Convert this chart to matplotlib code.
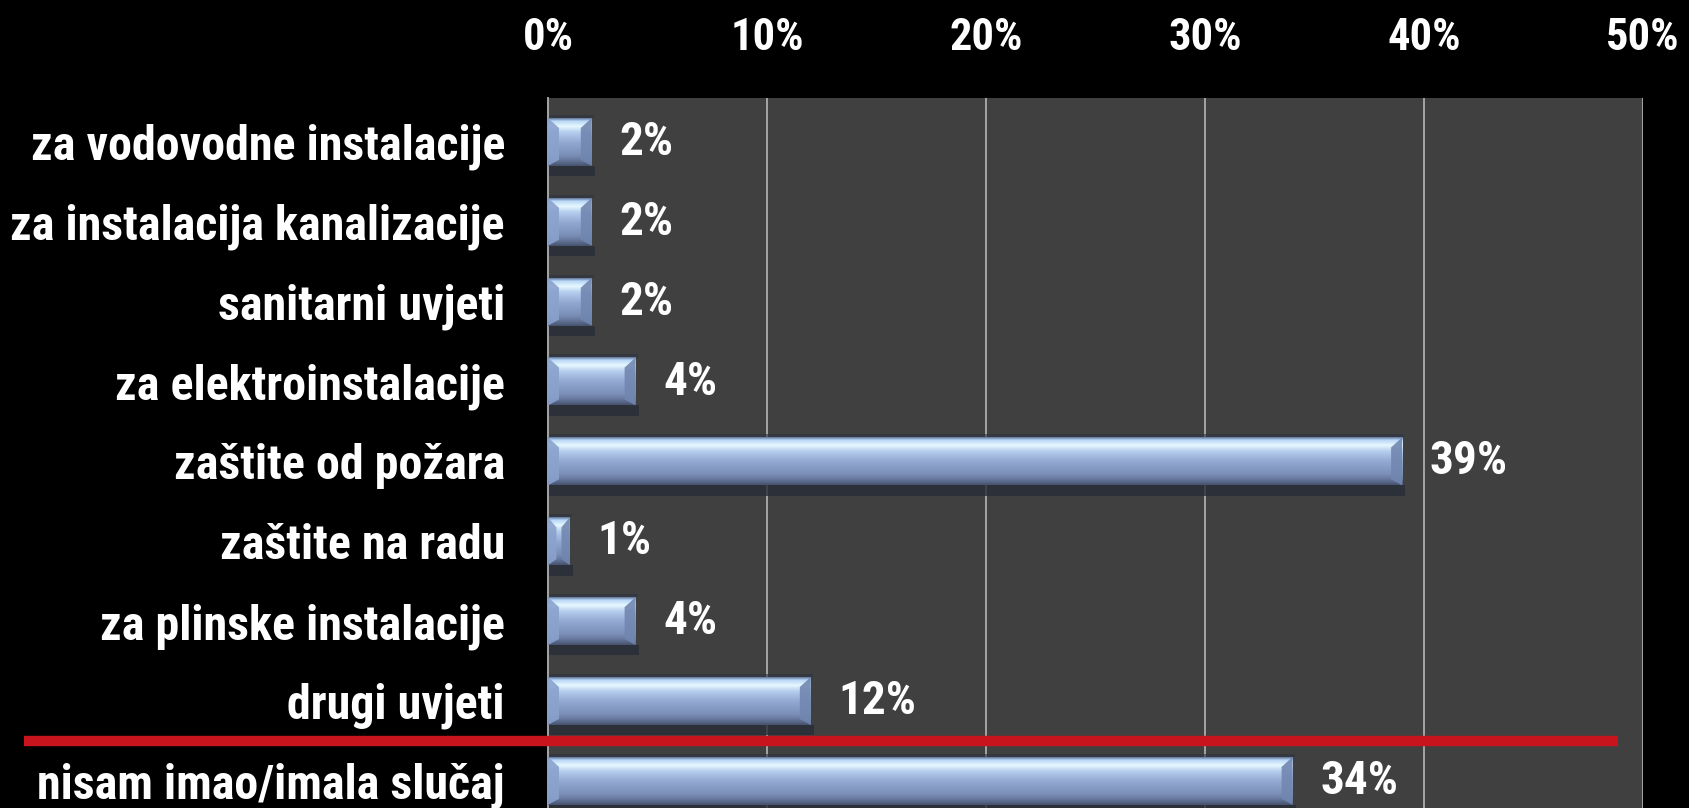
import numpy as np
import matplotlib
matplotlib.use('Agg')
import matplotlib.pyplot as plt
import matplotlib.transforms as mtransforms
from matplotlib import font_manager
from matplotlib.patches import Polygon, Rectangle
from matplotlib.colors import LinearSegmentedColormap

# ---- data ----
categories = [
    'za vodovodne instalacije',
    'za instalacija kanalizacije',
    'sanitarni uvjeti',
    'za elektroinstalacije',
    'zaštite od požara',
    'zaštite na radu',
    'za plinske instalacije',
    'drugi uvjeti',
    'nisam imao/imala slučaj',
]
values = [2, 2, 2, 4, 39, 1, 4, 12, 34]
tick_values = [0, 10, 20, 30, 40, 50]
tick_labels = ['0%', '10%', '20%', '30%', '40%', '50%']
n_above_separator = 8   # red line separates the last category


def pick_font():
    fl = font_manager.fontManager.ttflist
    names = {f.name for f in fl}
    for p in ['Liberation Sans Narrow', 'Roboto Condensed', 'Open Sans Condensed',
              'Noto Sans Condensed', 'DejaVu Sans Condensed', 'Noto Sans SemiCondensed',
              'Open Sans SemiCondensed']:
        if p in names:
            return p, 'normal'
    for fam in ['Noto Sans', 'DejaVu Sans', 'Open Sans', 'Roboto']:
        for f in fl:
            if f.name == fam and str(f.stretch) in ('condensed', 'semi-condensed',
                                                    'extra-condensed', 'ultra-condensed'):
                return fam, 'condensed' if 'semi' not in str(f.stretch) else 'semi-condensed'
    for f in fl:
        if 'Condensed' in f.name or 'Narrow' in f.name:
            return f.name, 'normal'
    return 'Roboto', 'normal'


FAM, STRETCH = pick_font()
plt.rcParams['font.family'] = [FAM, 'DejaVu Sans']
plt.rcParams['font.stretch'] = STRETCH
WEIGHT = 'bold'

W, H = 1690, 808
fig = plt.figure(figsize=(W / 100, H / 100), dpi=100, facecolor='black')
ax = fig.add_axes([548 / W, 0, 1095 / W, 710 / H])
ax.set_facecolor('#404040')
renderer = fig.canvas.get_renderer()


def fit_size(text, target_px, maxsize):
    t = fig.text(0, 0, text, fontsize=maxsize, fontweight=WEIGHT)
    wpx = t.get_window_extent(renderer).width
    t.remove()
    return min(maxsize, maxsize * target_px / wpx)


cat_size = min(fit_size(c, 494, 36) for c in ['za vodovodne instalacije', 'za instalacija kanalizacije'])
tick_size = fit_size('10%', 86, 32)
val_size = fit_size('39%', 86, 34)

y = np.arange(len(categories))
bar_h = 0.6
ax.set_xlim(tick_values[0], tick_values[-1])
ax.set_ylim(8.34, -0.55)

bars = ax.barh(y, values, height=bar_h, color='none', edgecolor='none', zorder=3)

grad_cmap = LinearSegmentedColormap.from_list('bev', [
    (0.00, '#5d7398'),
    (0.06, '#b8d6f6'),
    (0.17, '#e6f8ff'),
    (0.30, '#b4cced'),
    (0.50, '#94aad2'),
    (0.78, '#7a8eb6'),
    (0.88, '#66779c'),
    (1.00, '#46536e'),
])
grad = np.linspace(0, 1, 256).reshape(-1, 1)

p0 = ax.transData.transform((0, 0))
p1 = ax.transData.transform((1, 1))
px_x = abs(p1[0] - p0[0])
px_y = abs(p1[1] - p0[1])
bev_y = 10 / px_y

for rect in bars:
    x0 = rect.get_x()
    w = rect.get_width()
    y0 = rect.get_y()
    h = rect.get_height()
    x1 = x0 + w
    y1 = y0 + h
    b = min(11 / px_x, w / 2.6)
    ax.add_patch(Rectangle((x0, y1), w + 0.15, 0.13, facecolor='#272c37',
                           edgecolor='none', alpha=0.8, zorder=2.5))
    ax.add_patch(Rectangle((x0, y0 - 0.04), w + 0.1, 0.04, facecolor='#2e3440',
                           edgecolor='none', alpha=0.6, zorder=2.5))
    ax.imshow(grad, cmap=grad_cmap, extent=(x0, x1, y1, y0), origin='upper',
              aspect='auto', zorder=3, interpolation='bilinear')
    ax.add_patch(Polygon([(x0, y0), (x0 + b, y0 + bev_y), (x0 + b, y1 - bev_y * 0.6), (x0, y1)],
                         closed=True, facecolor='#8aa2cc', edgecolor='none', alpha=0.9, zorder=3.2))
    ax.add_patch(Polygon([(x1, y0), (x1 - b, y0 + bev_y), (x1 - b, y1 - bev_y * 0.6), (x1, y1)],
                         closed=True, facecolor='#7287b0', edgecolor='none', alpha=0.9, zorder=3.2))

ax.set_aspect('auto')
ax.set_xlim(tick_values[0], tick_values[-1])
ax.set_ylim(8.34, -0.55)

for rect, v in zip(bars, values):
    ax.annotate(f'{v}%', xy=(rect.get_x() + rect.get_width(), rect.get_y() + rect.get_height() / 2),
                xytext=(20, 0), textcoords='offset points', ha='left', va='center',
                color='white', fontsize=val_size, fontweight=WEIGHT, zorder=6)

ax.set_axisbelow(True)
ax.xaxis.grid(True, color='#a4a4a4', lw=1.4, zorder=1)
for s in ['top', 'right', 'bottom']:
    ax.spines[s].set_visible(False)
ax.spines['left'].set_color('#a4a4a4')
ax.spines['left'].set_linewidth(1.4)

ax.xaxis.tick_top()
ax.set_xticks(tick_values, tick_labels)
ax.tick_params(axis='x', length=0, pad=28, labelsize=tick_size, labelcolor='white')
ax.set_yticks(y, categories)
ax.tick_params(axis='y', length=0, pad=31, labelsize=cat_size, labelcolor='white')
for lbl in ax.get_xticklabels() + ax.get_yticklabels():
    lbl.set_fontweight(WEIGHT)

trans = mtransforms.blended_transform_factory(fig.transFigure, ax.transData)
sep_y = n_above_separator - 0.5
ax.plot([24 / W, 1618 / W], [sep_y, sep_y], transform=trans, color='#c8151d',
        lw=7.5, clip_on=False, zorder=7, solid_capstyle='butt')

fig.savefig('out.png', dpi=100, facecolor='black')
